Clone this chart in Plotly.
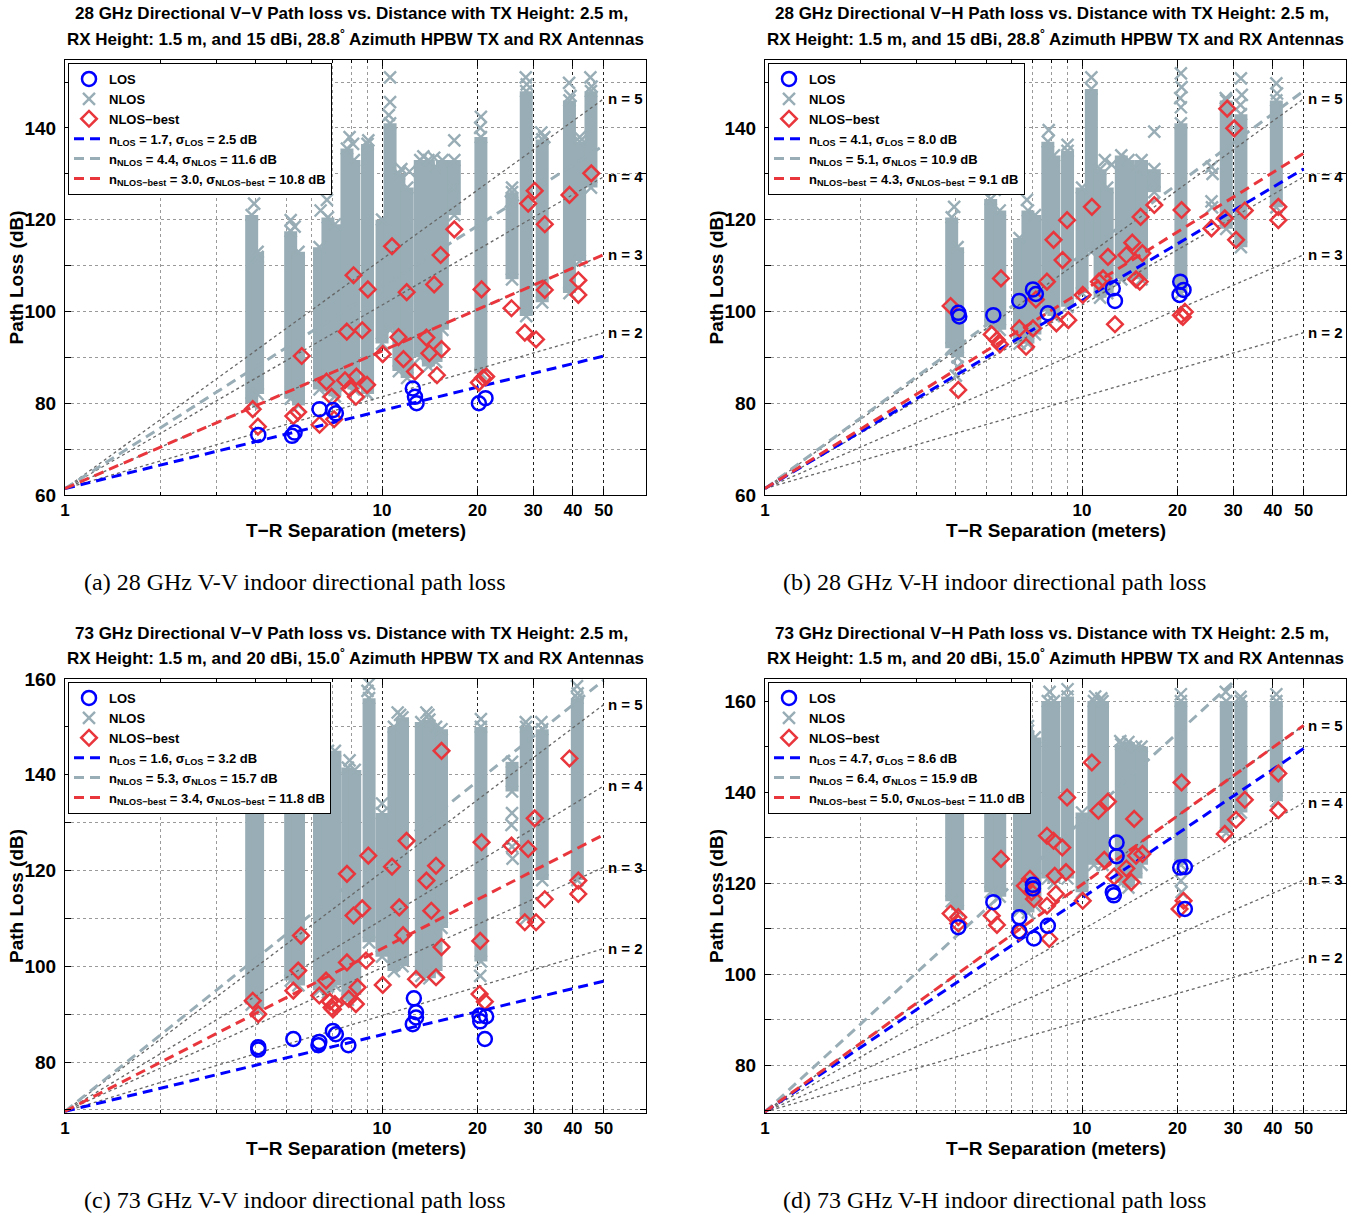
import numpy as np
import plotly.graph_objects as go

W, H = 1358, 1216
FONT = "Liberation Sans, Arial, sans-serif"
SERIF = "Liberation Serif, Times New Roman, serif"

BLUE = "#0000FF"
GRAY = "#98ADB5"
RED = "#E8363C"
REFGRAY = "#666666"

X_MAX = 68
X_TICKS = [1, 10, 20, 30, 40, 50]
X_MINOR = [2, 3, 4, 5, 6, 7, 8, 9]
N_REF = [2, 3, 4, 5]
FIT_X = [1, 50]
FSPL_28 = 61.4
FSPL_73 = 69.7

# ---------------- Panel (a): 28 GHz V-V ----------------
A_LOS_D = [4.07, 5.2, 5.3, 6.35, 7.0, 7.15, 12.5, 12.7, 12.85, 20.2, 21.2]
A_LOS_PL = [73.1, 72.9, 73.6, 78.7, 78.5, 77.8, 83.2, 81.4, 80.0, 80.0, 81.1]
A_BEST_D = [3.91, 4.06, 5.25, 5.44, 5.58, 6.35, 6.68, 6.93, 7.06, 7.74, 8.13, 7.64, 7.9, 8.27, 8.3,
            8.66, 8.97, 9.02, 10.05, 10.75, 11.27, 11.68, 11.96, 12.7, 13.8, 14.1, 14.6, 14.9, 15.4,
            15.3, 16.9, 20.6, 20.2, 20.8, 21.3, 25.6, 28.2, 30.6, 28.9, 30.3, 32.6, 32.6, 39.0, 41.6,
            41.6, 45.7]
A_BEST_PL = [78.7, 74.9, 77.2, 78.1, 90.3, 75.3, 84.7, 81.4, 76.5, 95.6, 107.9, 85.0, 83.2, 81.4, 85.8,
             95.9, 84.0, 104.8, 90.7, 114.2, 94.4, 89.6, 104.2, 86.9, 94.3, 90.9, 105.9, 86.1, 91.8,
             112.3, 117.9, 104.8, 84.5, 85.5, 85.8, 100.7, 95.4, 93.9, 123.5, 126.3, 119.0, 104.7, 125.4,
             106.8, 103.6, 130.1]
A_BAND_D = [3.88, 4.05, 5.15, 5.45, 6.35, 6.75, 7.1, 7.75, 8.15, 9.0, 10.0, 10.6, 11.3, 12.0,
            13.2, 14.0, 14.8, 15.5, 16.9, 20.5, 25.7, 28.5, 32.0, 39.0, 42.0, 45.6]
A_BAND_LO = [80, 82, 81, 79.5, 83, 82.5, 81.5, 84, 83, 82, 93, 96, 87, 85.5,
             90, 88, 89, 96, 121, 86.5, 107, 99, 102, 104, 111, 127]
A_BAND_HI = [121, 113, 117.5, 113, 114, 120.5, 119, 135.5, 133, 136.5, 120, 141, 130, 127,
             133, 133, 131.5, 133, 133, 138, 126, 148, 137.5, 146, 137, 148]
A_X_D = [3.95, 4.05, 5.15, 5.3, 6.7, 6.4, 7.9, 8.1, 9.05, 10.6, 10.6, 10.5, 11.5, 12.2, 13.5, 14.6,
         16.9, 16.8, 20.5, 20.4, 25.7, 25.5, 28.4, 28.6, 31.8, 32.5, 38.9, 39.3, 45.4, 45.8, 42.0]
A_X_PL = [123.5, 111.9, 119.9, 118.5, 124.3, 122.0, 138.0, 136.5, 137.3, 151.0, 145.6, 142.8, 131.0,
          130.5, 133.8, 133.5, 137.3, 127.0, 142.4, 140.0, 127.0, 124.0, 151.0, 149.5, 139.0, 138.0,
          149.8, 147.0, 151.0, 149.0, 138.0]
A_PLE = [1.7, 4.4, 3.0]
A_SIGMA = [2.5, 11.6, 10.8]

# ---------------- Panel (b): 28 GHz V-H ----------------
B_LOS_D = [4.07, 4.1, 5.25, 6.34, 7.0, 7.15, 7.8, 12.5, 12.7, 20.4, 20.9, 20.3]
B_LOS_PL = [99.7, 98.9, 99.2, 102.3, 104.8, 103.8, 99.6, 105.0, 102.3, 106.5, 104.7, 103.6]
B_BEST_D = [3.85, 4.07, 5.55, 5.19, 5.39, 5.51, 6.34, 6.66, 7.0, 7.15, 7.75, 8.13, 8.3, 8.68, 8.97,
            9.05, 10.05, 10.74, 11.3, 11.65, 12.07, 12.7, 13.8, 14.4, 14.8, 15.3, 15.5, 15.2, 16.9,
            20.6, 20.5, 21.1, 20.8, 25.6, 28.2, 28.7, 30.2, 30.6, 32.6, 41.6, 41.6]
B_BEST_PL = [101.2, 82.9, 107.2, 95.0, 93.8, 92.8, 96.3, 92.3, 96.3, 102.6, 106.5, 115.6, 97.4, 111.2,
             119.9, 98.1, 103.6, 122.8, 106.5, 107.2, 111.9, 97.2, 112.3, 115.0, 107.0, 120.6, 112.7,
             106.5, 123.2, 122.1, 99.2, 99.9, 98.8, 118.1, 120.3, 144.2, 139.9, 115.6, 122.0, 122.8, 119.9]
B_BAND_D = [3.88, 4.05, 5.15, 5.5, 6.35, 6.75, 7.1, 7.8, 8.15, 9.0, 10.0, 10.7, 11.4, 12.0,
            13.3, 14.0, 14.8, 15.4, 16.9, 20.5, 28.5, 31.7, 41.0]
B_BAND_LO = [92, 90, 97, 96, 93, 93, 95, 100, 99, 101, 104, 113, 103, 104,
             107, 108, 108, 107, 126, 104, 118, 114, 122.7]
B_BAND_HI = [120.5, 114, 124.5, 122, 116, 122, 121, 137, 134, 135, 127, 148.5, 131, 127,
             134, 133, 131, 133, 131, 141, 146, 143, 146]
B_X_D = [3.95, 4.05, 4.0, 5.2, 5.3, 6.7, 7.85, 9.0, 10.7, 11.8, 12.4, 16.9, 16.8, 20.5, 20.6, 20.4,
         20.5, 25.6, 25.8, 25.6, 25.7, 28.4, 31.7, 31.9, 31.6, 41.0, 41.2]
B_X_PL = [122.8, 88.0, 86.0, 128.0, 126.5, 124.3, 139.5, 136.3, 151.0, 133.0, 132.0, 139.2, 128.0,
          151.9, 148.9, 146.5, 144.5, 131.5, 130.0, 124.0, 122.7, 146.5, 150.8, 147.2, 145.0, 149.7,
          147.5]
B_PLE = [4.1, 5.1, 4.3]
B_SIGMA = [8.0, 10.9, 9.1]

# ---------------- Panel (c): 73 GHz V-V ----------------
C_LOS_D = [4.07, 4.07, 5.25, 6.34, 6.3, 7.0, 7.15, 7.83, 12.6, 12.8, 12.8, 12.5, 20.3, 21.3, 20.4, 21.1]
C_LOS_PL = [83.1, 82.6, 84.8, 84.2, 83.5, 86.5, 85.8, 83.5, 93.3, 90.4, 89.3, 87.9, 89.7, 89.5, 88.5, 84.8]
C_BEST_D = [3.91, 4.07, 5.25, 5.44, 5.55, 6.34, 6.66, 6.85, 6.93, 7.1, 7.0, 7.75, 7.75, 7.85, 8.13,
            8.27, 8.37, 8.66, 8.9, 9.05, 10.05, 10.75, 11.33, 11.65, 11.95, 12.8, 13.8, 14.3, 14.8,
            14.8, 15.4, 15.4, 20.6, 20.4, 20.3, 21.1, 25.6, 28.2, 28.9, 30.3, 30.6, 32.6, 39.0, 41.6, 41.6]
C_BEST_PL = [92.8, 90.0, 94.9, 99.1, 106.4, 93.9, 97.0, 92.6, 91.4, 92.1, 91.0, 119.3, 100.8, 93.2,
             110.6, 92.1, 95.6, 112.1, 101.2, 123.1, 96.1, 120.8, 112.3, 106.5, 126.2, 97.3, 117.9,
             111.6, 121.0, 97.7, 104.0, 145.0, 125.9, 105.3, 94.2, 92.6, 125.2, 109.2, 124.5, 130.9,
             109.2, 114.0, 143.4, 117.9, 115.1]
C_BAND_D = [3.88, 4.05, 5.15, 5.45, 6.35, 6.75, 7.1, 7.8, 8.2, 9.1, 10.0, 10.9, 11.6,
            13.3, 14.1, 14.8, 15.4, 20.5, 25.7, 28.5, 32.0, 41.3]
C_BAND_LO = [92, 91, 97, 96, 95, 94.5, 96, 93, 94, 105, 102, 99, 100,
             98, 97.5, 99, 108, 101, 136.5, 110, 118, 118]
C_BAND_HI = [145, 140, 145, 145, 145, 145, 145, 141.5, 141, 156, 132, 150, 152,
             151, 151.5, 150, 149.5, 150, 142.7, 150, 149.5, 156]
C_X_D = [9.1, 9.0, 11.2, 11.4, 13.8, 14.0, 20.5, 20.4, 25.7, 25.6, 25.7, 25.8, 28.4, 31.8, 41.2,
         41.4, 7.9, 10.0]
C_X_PL = [159.0, 157.5, 153.0, 152.5, 153.0, 152.5, 151.6, 98.0, 132.0, 129.5, 125.0, 122.5, 151.0,
          151.0, 158.5, 157.0, 143.0, 134.0]
C_PLE = [1.6, 5.3, 3.4]
C_SIGMA = [3.2, 15.7, 11.8]

# ---------------- Panel (d): 73 GHz V-H ----------------
D_LOS_D = [4.07, 5.25, 6.34, 6.34, 7.0, 7.0, 7.05, 7.8, 12.85, 12.85, 12.5, 12.6, 20.4, 21.1, 21.1]
D_LOS_PL = [110.3, 115.8, 112.5, 109.4, 119.6, 118.8, 107.8, 110.6, 128.9, 125.9, 118.0, 117.3,
            123.4, 123.5, 114.3]
D_BEST_D = [3.85, 4.07, 4.07, 5.19, 5.55, 5.39, 6.34, 6.6, 6.85, 6.93, 7.05, 7.75, 7.75, 7.88, 8.13,
            8.27, 8.2, 8.66, 8.9, 8.97, 10.05, 10.74, 11.26, 11.75, 12.07, 12.63, 13.8, 14.3, 14.6,
            14.8, 15.5, 20.6, 20.3, 20.9, 28.2, 30.6, 32.6, 41.6, 41.6]
D_BEST_PL = [113.3, 112.5, 111.1, 112.8, 125.3, 110.8, 109.2, 119.4, 120.9, 118.0, 116.5, 130.4,
             115.0, 107.7, 129.3, 117.6, 121.6, 127.8, 122.4, 138.8, 116.1, 146.5, 135.9, 125.1,
             137.9, 121.4, 123.2, 120.2, 134.1, 126.0, 126.4, 142.1, 114.3, 116.1, 130.8, 133.9,
             138.3, 144.1, 136.0]
D_BAND_D = [3.88, 4.05, 5.15, 5.5, 6.35, 6.75, 7.1, 7.8, 8.15, 9.0, 10.0, 10.9, 11.6,
            13.3, 14.0, 14.8, 15.4, 20.5, 28.5, 31.7, 41.0]
D_BAND_LO = [116, 114, 118, 117, 114, 113.5, 115, 121, 120, 121, 118, 124, 124,
             120, 119, 121, 124, 124, 131, 135.5, 138]
D_BAND_HI = [145, 140, 145, 145, 150, 153.5, 152, 160, 160, 161, 135.5, 160, 160,
             150.5, 151, 150, 150, 160, 160, 160, 160]
D_X_D = [6.75, 7.9, 9.0, 11.0, 11.5, 13.2, 20.5, 20.6, 20.5, 28.4, 31.6, 41.0]
D_X_PL = [154.5, 162.0, 162.6, 161.0, 160.6, 151.2, 161.5, 118.0, 120.5, 162.0, 160.9, 161.5]
D_PLE = [4.7, 6.4, 5.0]
D_SIGMA = [8.6, 15.9, 11.0]

TITLES = [
    ("28 GHz Directional V−V Path loss vs. Distance with TX Height: 2.5 m,",
     "RX Height: 1.5 m, and 15 dBi, 28.8<sup>°</sup> Azimuth HPBW TX and RX Antennas"),
    ("28 GHz Directional V−H Path loss vs. Distance with TX Height: 2.5 m,",
     "RX Height: 1.5 m, and 15 dBi, 28.8<sup>°</sup> Azimuth HPBW TX and RX Antennas"),
    ("73 GHz Directional V−V Path loss vs. Distance with TX Height: 2.5 m,",
     "RX Height: 1.5 m, and 20 dBi, 15.0<sup>°</sup> Azimuth HPBW TX and RX Antennas"),
    ("73 GHz Directional V−H Path loss vs. Distance with TX Height: 2.5 m,",
     "RX Height: 1.5 m, and 20 dBi, 15.0<sup>°</sup> Azimuth HPBW TX and RX Antennas"),
]
CAPTIONS = ["(a) 28 GHz V-V indoor directional path loss",
            "(b) 28 GHz V-H indoor directional path loss",
            "(c) 73 GHz V-V indoor directional path loss",
            "(d) 73 GHz V-H indoor directional path loss"]

PANELS = [
    dict(los=(A_LOS_D, A_LOS_PL), best=(A_BEST_D, A_BEST_PL), band=(A_BAND_D, A_BAND_LO, A_BAND_HI),
         xs=(A_X_D, A_X_PL), ple=A_PLE, sigma=A_SIGMA, fspl=FSPL_28,
         yrange=[60, 154.8], yticks=[60, 80, 100, 120, 140]),
    dict(los=(B_LOS_D, B_LOS_PL), best=(B_BEST_D, B_BEST_PL), band=(B_BAND_D, B_BAND_LO, B_BAND_HI),
         xs=(B_X_D, B_X_PL), ple=B_PLE, sigma=B_SIGMA, fspl=FSPL_28,
         yrange=[60, 154.8], yticks=[60, 80, 100, 120, 140]),
    dict(los=(C_LOS_D, C_LOS_PL), best=(C_BEST_D, C_BEST_PL), band=(C_BAND_D, C_BAND_LO, C_BAND_HI),
         xs=(C_X_D, C_X_PL), ple=C_PLE, sigma=C_SIGMA, fspl=FSPL_73,
         yrange=[69.35, 160], yticks=[80, 100, 120, 140, 160]),
    dict(los=(D_LOS_D, D_LOS_PL), best=(D_BEST_D, D_BEST_PL), band=(D_BAND_D, D_BAND_LO, D_BAND_HI),
         xs=(D_X_D, D_X_PL), ple=D_PLE, sigma=D_SIGMA, fspl=FSPL_73,
         yrange=[69.45, 164.85], yticks=[80, 100, 120, 140, 160]),
]

# pixel boxes of the plotting areas (left, right, top, bottom)
BOXES = [(65, 646, 60, 495), (765, 1346, 60, 495), (65, 646, 679, 1113), (765, 1346, 679, 1113)]

fig = go.Figure()
layout = dict(width=W, height=H, margin=dict(l=0, r=0, t=0, b=0, pad=0, autoexpand=False),
              paper_bgcolor="white", plot_bgcolor="white", showlegend=True)
annotations = []


def px(x):
    return x / W


def py(y):
    return 1 - y / H


def paper_text(x, y, text, font, angle=0):
    return dict(xref="paper", yref="paper", x=px(x), y=py(y), xanchor="center", yanchor="middle",
                text=text, showarrow=False, textangle=angle, font=font)


for i, p in enumerate(PANELS):
    sfx = "" if i == 0 else str(i + 1)
    xa, ya = "x" + sfx, "y" + sfx
    lg = "legend" + sfx
    l, r, t, b = BOXES[i]

    # NLOS dense bands
    bx, by = [], []
    for d, lo, hi in zip(*p["band"]):
        bx += [d, d, None]
        by += [lo, hi, None]
    fig.add_trace(go.Scatter(x=bx, y=by, mode="lines", line=dict(color=GRAY, width=13),
                             xaxis=xa, yaxis=ya, legend=lg, showlegend=False, hoverinfo="skip"))
    # NLOS crosses
    cx = list(p["xs"][0]) + list(p["band"][0]) + list(p["band"][0])
    cy = list(p["xs"][1]) + list(p["band"][1]) + list(p["band"][2])
    fig.add_trace(go.Scatter(x=cx, y=cy, mode="markers", name="NLOS", legendrank=2,
                             marker=dict(symbol="x-thin-open", size=12,
                                         line=dict(color=GRAY, width=2.4), color=GRAY),
                             xaxis=xa, yaxis=ya, legend=lg))
    # reference n lines
    rx, ry = [], []
    for n in N_REF:
        rx += FIT_X + [None]
        ry += [p["fspl"] + 10 * n * np.log10(v) for v in FIT_X] + [None]
    fig.add_trace(go.Scatter(x=rx, y=ry, mode="lines", line=dict(color=REFGRAY, width=1.3, dash="dot"),
                             xaxis=xa, yaxis=ya, legend=lg, showlegend=False, hoverinfo="skip"))
    # fitted lines
    names = [
        f"n<sub>LOS</sub> = {p['ple'][0]:.1f}, σ<sub>LOS</sub> = {p['sigma'][0]:.1f} dB",
        f"n<sub>NLOS</sub> = {p['ple'][1]:.1f}, σ<sub>NLOS</sub> = {p['sigma'][1]:.1f} dB",
        f"n<sub>NLOS−best</sub> = {p['ple'][2]:.1f}, σ<sub>NLOS−best</sub> = {p['sigma'][2]:.1f} dB",
    ]
    for k in [1, 0, 2]:
        col = [BLUE, GRAY, RED][k]
        fy = [p["fspl"] + 10 * p["ple"][k] * np.log10(v) for v in FIT_X]
        fig.add_trace(go.Scatter(x=FIT_X, y=fy, mode="lines", name=names[k], legendrank=4 + k,
                                 line=dict(color=col, width=3, dash="10px,6px"),
                                 xaxis=xa, yaxis=ya, legend=lg))
    # NLOS-best
    fig.add_trace(go.Scatter(x=p["best"][0], y=p["best"][1], mode="markers", name="NLOS−best",
                             legendrank=3,
                             marker=dict(symbol="diamond-open", size=12,
                                         line=dict(color=RED, width=2.5), color=RED),
                             xaxis=xa, yaxis=ya, legend=lg))
    # LOS
    fig.add_trace(go.Scatter(x=p["los"][0], y=p["los"][1], mode="markers", name="LOS", legendrank=1,
                             marker=dict(symbol="circle-open", size=14,
                                         line=dict(color=BLUE, width=2.5), color=BLUE),
                             xaxis=xa, yaxis=ya, legend=lg))

    tickfont = dict(family=FONT, size=17, color="black", weight="bold")
    layout["xaxis" + sfx] = dict(
        type="log", domain=[px(l), px(r)], anchor=ya, range=[0, np.log10(X_MAX)],
        tickmode="array", tickvals=X_TICKS, ticktext=[str(v) for v in X_TICKS],
        ticks="inside", ticklen=6, tickcolor="black", showline=True, linecolor="black",
        linewidth=1, mirror="ticks", showgrid=True, gridcolor="#222222", griddash="dot",
        gridwidth=1, zeroline=False, tickfont=tickfont,
        minor=dict(tickmode="array", tickvals=X_MINOR, ticks="inside", ticklen=3,
                   tickcolor="black", showgrid=True, gridcolor="#9a9a9a", griddash="dot", gridwidth=1))
    layout["yaxis" + sfx] = dict(
        domain=[py(b), py(t)], anchor=xa, range=p["yrange"],
        tickmode="array", tickvals=p["yticks"], ticks="inside", ticklen=6, tickcolor="black",
        showline=True, linecolor="black", linewidth=1, mirror="ticks", showgrid=True,
        gridcolor="#9a9a9a", griddash="dot", gridwidth=1, zeroline=False,
        tickfont=dict(family=FONT, size=19, color="black", weight="bold"), ticklabelstandoff=4,
        minor=dict(tick0=0, dtick=10, ticks="inside", ticklen=6, tickcolor="black",
                   showgrid=True, gridcolor="#9a9a9a", griddash="dot", gridwidth=1))
    layout[lg] = dict(x=px(l + 3), y=py(t + 3), xanchor="left", yanchor="top",
                      bgcolor="white", bordercolor="black", borderwidth=1,
                      font=dict(family=FONT, size=13, color="black", weight="bold"),
                      traceorder="normal", tracegroupgap=0, itemwidth=30)

    # n = k labels
    for n in N_REF:
        annotations.append(dict(xref=xa, yref=ya, x=np.log10(58.4), xanchor="center", yanchor="middle",
                                y=p["fspl"] + 10 * n * np.log10(50), text=f"<b>n = {n}</b>",
                                showarrow=False, font=dict(family=FONT, size=15, color="black")))
    cx_mid = (l + r) / 2
    tfont = dict(family=FONT, size=17, color="black")
    annotations.append(paper_text(cx_mid - 4, t - 46, f"<b>{TITLES[i][0]}</b>", tfont))
    annotations.append(paper_text(cx_mid, t - 22, f"<b>{TITLES[i][1]}</b>", tfont))
    afont = dict(family=FONT, size=19, color="black")
    annotations.append(paper_text(cx_mid, b + 35, "<b>T−R Separation (meters)</b>", afont))
    annotations.append(paper_text(l - 49, (t + b) / 2, "<b>Path Loss (dB)</b>", afont, angle=-90))
    annotations.append(paper_text(l + 230, b + 87, CAPTIONS[i],
                                  dict(family=SERIF, size=24, color="black")))

layout["annotations"] = annotations
fig.update_layout(**layout)
fig.write_html("out.html")
